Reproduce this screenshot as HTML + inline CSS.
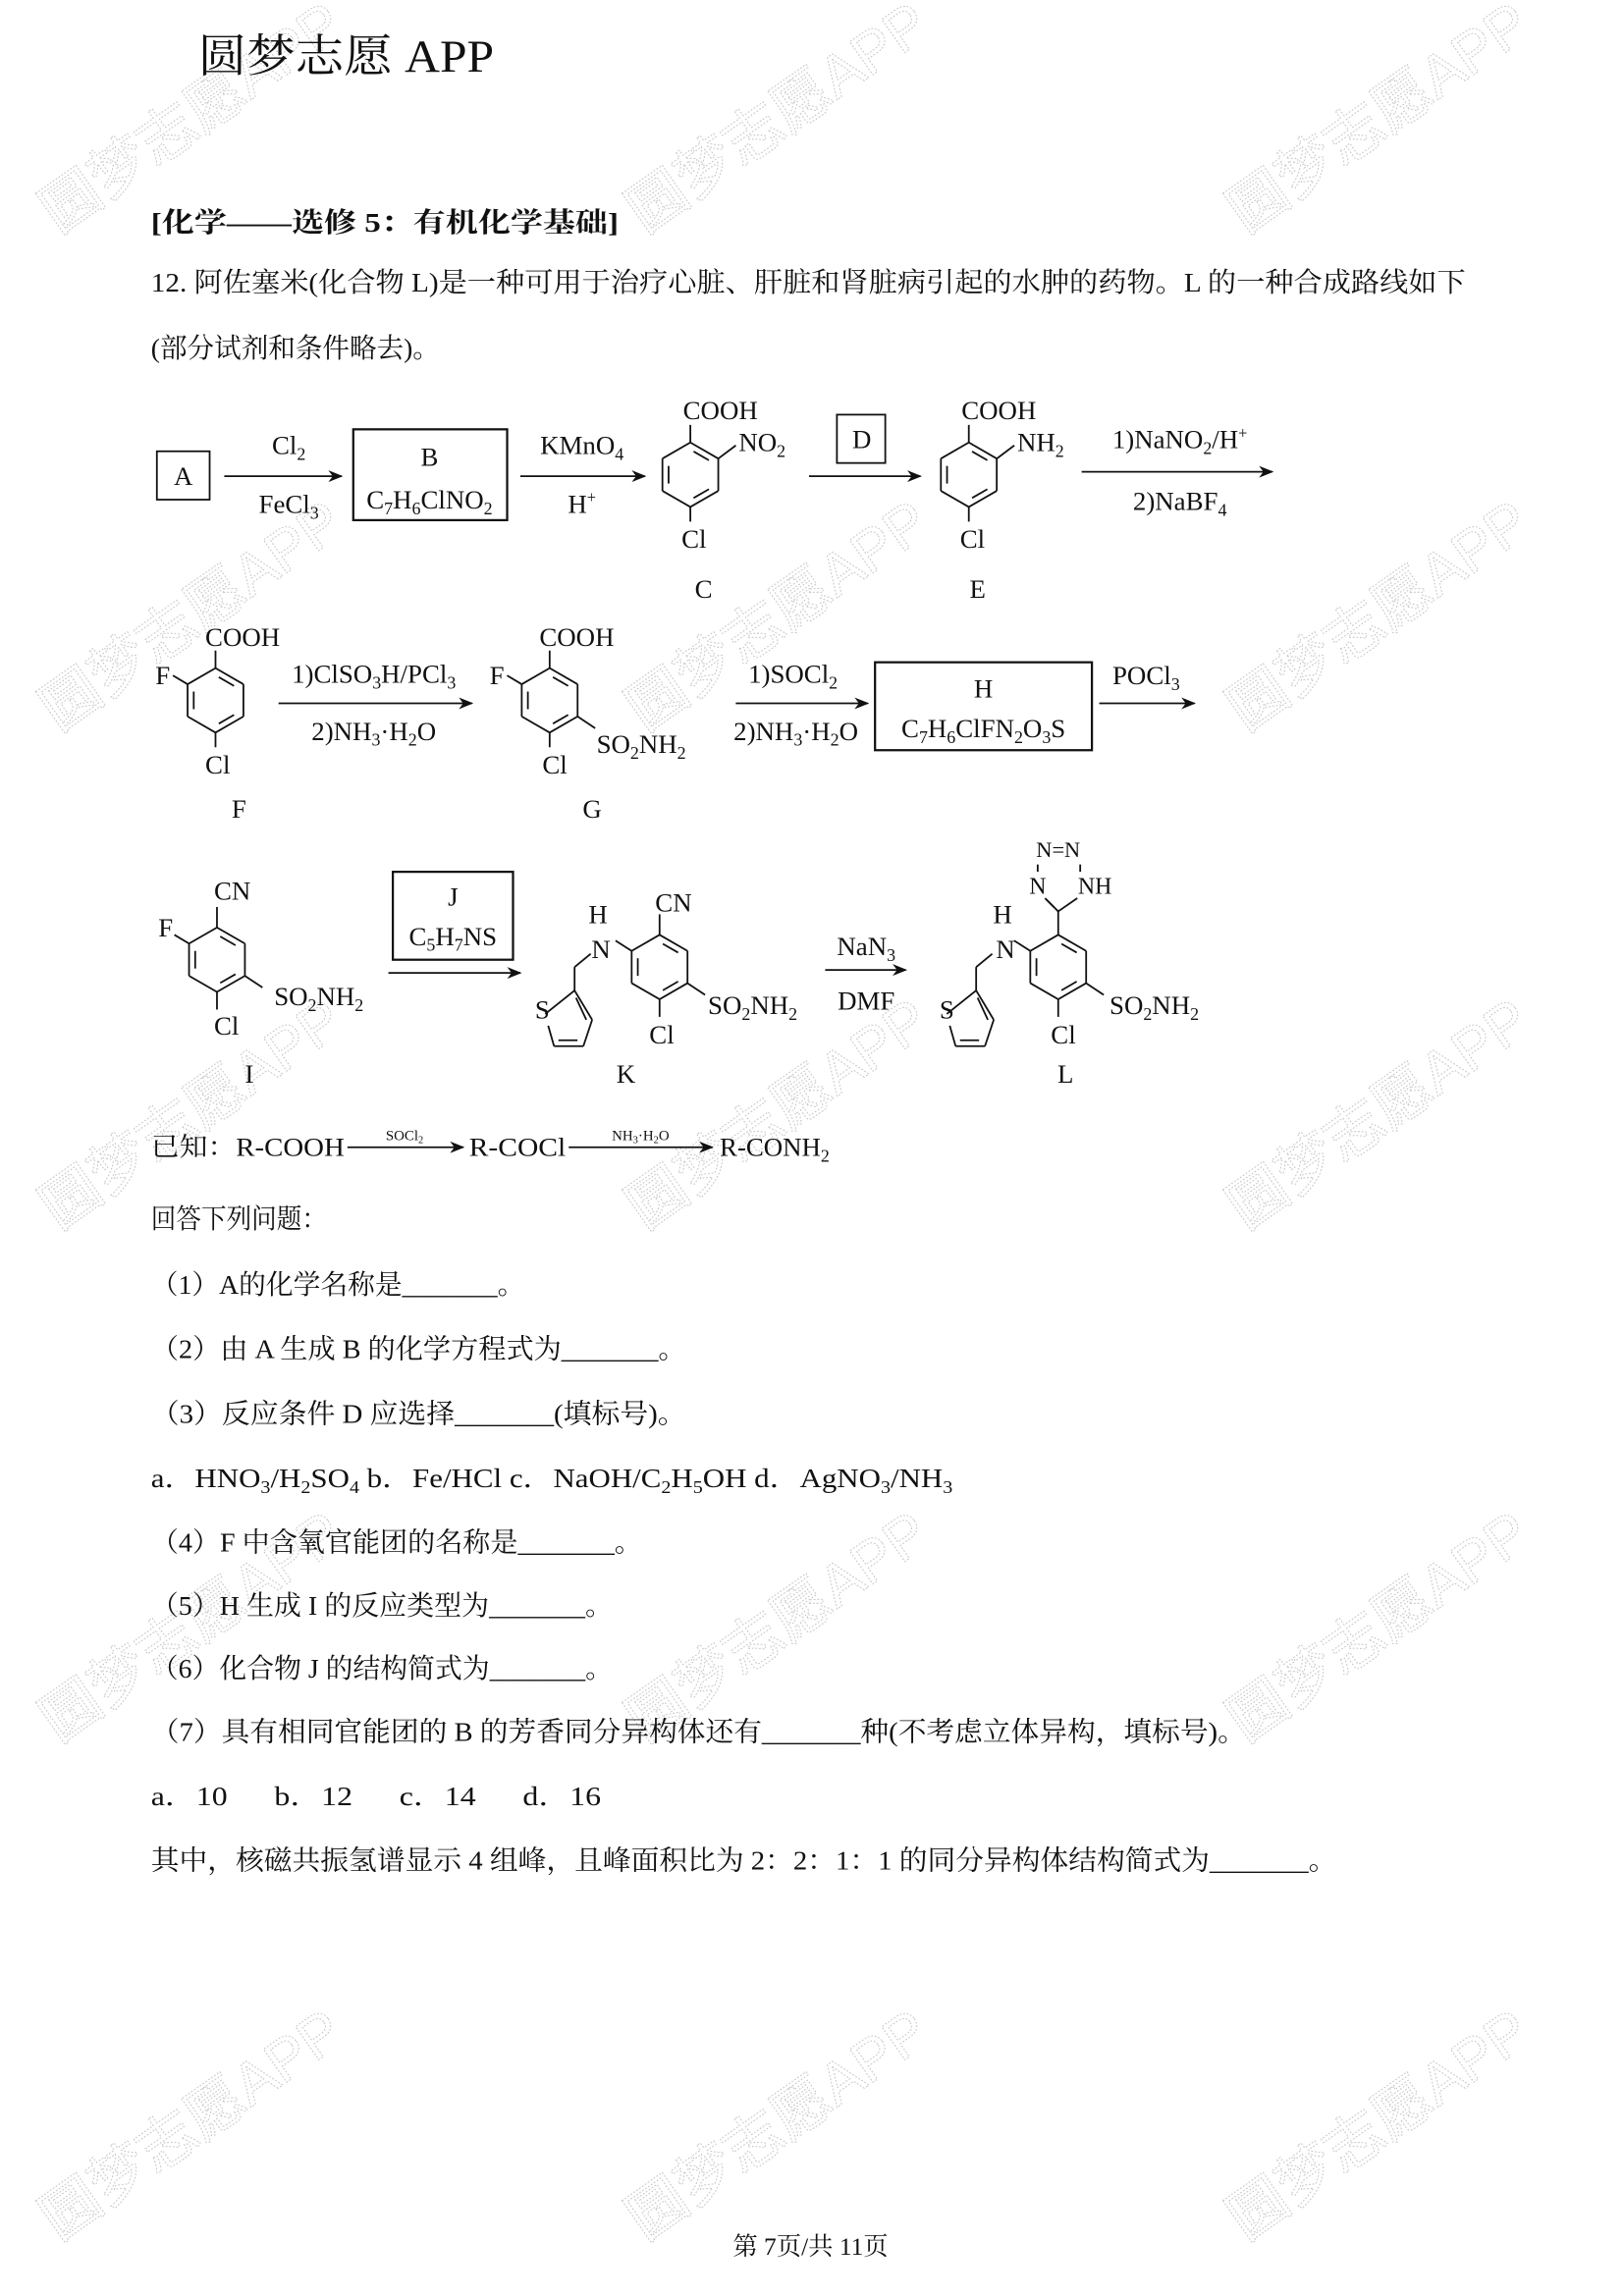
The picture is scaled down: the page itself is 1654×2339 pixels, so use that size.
<!DOCTYPE html>
<html><head><meta charset="utf-8"><style>
html,body{margin:0;padding:0;background:#fff;}
svg{display:block;}
text{font-family:"Liberation Serif","Noto Serif CJK SC",serif;fill:#111;}
.wm{font-family:"Liberation Sans","Noto Sans CJK SC",sans-serif;fill:none;stroke:#c8c8c8;stroke-width:0.7;stroke-dasharray:1.2 1.2;font-size:40px;}
</style></head><body>
<svg id="s" width="1654" height="2339" viewBox="0 0 1108 1567" xmlns="http://www.w3.org/2000/svg">
<defs><marker id="ah" markerWidth="10" markerHeight="8" refX="9" refY="4" orient="auto" markerUnits="userSpaceOnUse"><path d="M0,0 L10,4 L0,8 L3,4 z" fill="#111"/></marker></defs>
<g id="wms">
<text class="wm" transform="translate(40,160) rotate(-35)">圆梦志愿APP</text>
<text class="wm" transform="translate(440,160) rotate(-35)">圆梦志愿APP</text>
<text class="wm" transform="translate(850,160) rotate(-35)">圆梦志愿APP</text>
<text class="wm" transform="translate(40,500) rotate(-35)">圆梦志愿APP</text>
<text class="wm" transform="translate(440,500) rotate(-35)">圆梦志愿APP</text>
<text class="wm" transform="translate(850,500) rotate(-35)">圆梦志愿APP</text>
<text class="wm" transform="translate(40,840) rotate(-35)">圆梦志愿APP</text>
<text class="wm" transform="translate(440,840) rotate(-35)">圆梦志愿APP</text>
<text class="wm" transform="translate(850,840) rotate(-35)">圆梦志愿APP</text>
<text class="wm" transform="translate(40,1190) rotate(-35)">圆梦志愿APP</text>
<text class="wm" transform="translate(440,1190) rotate(-35)">圆梦志愿APP</text>
<text class="wm" transform="translate(850,1190) rotate(-35)">圆梦志愿APP</text>
<text class="wm" transform="translate(40,1530) rotate(-35)">圆梦志愿APP</text>
<text class="wm" transform="translate(440,1530) rotate(-35)">圆梦志愿APP</text>
<text class="wm" transform="translate(850,1530) rotate(-35)">圆梦志愿APP</text>
</g>

<text x="135" y="49" font-size="31" textLength="202" lengthAdjust="spacingAndGlyphs">圆梦志愿 APP</text>
<text x="103" y="158" font-size="18.5" font-weight="bold" textLength="319" lengthAdjust="spacingAndGlyphs">[化学——选修 5：有机化学基础]</text>
<text x="103" y="199" font-size="18.5" textLength="897" lengthAdjust="spacingAndGlyphs">12. 阿佐塞米(化合物 L)是一种可用于治疗心脏、肝脏和肾脏病引起的水肿的药物。L 的一种合成路线如下</text>
<text x="103" y="244" font-size="18.5" textLength="197" lengthAdjust="spacingAndGlyphs">(部分试剂和条件略去)。</text>

<g id="chem" font-size="18" stroke="#111" stroke-width="1.2" fill="none">
<rect x="107" y="308" width="36" height="33"/>
<line x1="153" y1="325" x2="233" y2="325" marker-end="url(#ah)"/>
<rect x="241" y="293" width="105" height="62" stroke-width="1.5"/>
<line x1="355" y1="325" x2="440" y2="325" marker-end="url(#ah)"/>
<rect x="571" y="283" width="33" height="33"/>
<line x1="552" y1="325" x2="628" y2="325" marker-end="url(#ah)"/>
<line x1="738" y1="322" x2="868" y2="322" marker-end="url(#ah)"/>
<line x1="190" y1="480" x2="322" y2="480" marker-end="url(#ah)"/>
<line x1="502" y1="480" x2="592" y2="480" marker-end="url(#ah)"/>
<rect x="597" y="452" width="148" height="60" stroke-width="1.5"/>
<line x1="750" y1="480" x2="815" y2="480" marker-end="url(#ah)"/>
<rect x="268" y="595" width="82" height="60" stroke-width="1.5"/>
<line x1="265" y1="664" x2="355" y2="664" marker-end="url(#ah)"/>
<line x1="563" y1="662" x2="618" y2="662" marker-end="url(#ah)"/>
<line x1="237" y1="783" x2="316" y2="783" marker-end="url(#ah)"/>
<line x1="388" y1="783" x2="486" y2="783" marker-end="url(#ah)"/>
</g>

<g font-size="18">
<text x="125" y="331" text-anchor="middle">A</text>
<text x="197" y="310" text-anchor="middle">Cl<tspan font-size="12" dy="4">2</tspan></text>
<text x="197" y="350" text-anchor="middle">FeCl<tspan font-size="12" dy="4">3</tspan></text>
<text x="293" y="318" text-anchor="middle">B</text>
<text x="293" y="347" text-anchor="middle">C<tspan font-size="12" dy="4">7</tspan><tspan dy="-4">H</tspan><tspan font-size="12" dy="4">6</tspan><tspan dy="-4">ClNO</tspan><tspan font-size="12" dy="4">2</tspan></text>
<text x="397" y="310" text-anchor="middle">KMnO<tspan font-size="12" dy="4">4</tspan></text>
<text x="397" y="350" text-anchor="middle">H<tspan font-size="11" dy="-7">+</tspan></text>
<text x="466" y="286">COOH</text>
<text x="504" y="308">NO<tspan font-size="12" dy="4">2</tspan></text>
<text x="465" y="374">Cl</text>
<text x="480" y="408" text-anchor="middle">C</text>
<text x="588" y="306" text-anchor="middle">D</text>
<text x="656" y="286">COOH</text>
<text x="694" y="308">NH<tspan font-size="12" dy="4">2</tspan></text>
<text x="655" y="374">Cl</text>
<text x="667" y="408" text-anchor="middle">E</text>
<text x="805" y="306" text-anchor="middle">1)NaNO<tspan font-size="12" dy="4">2</tspan><tspan dy="-4">/H</tspan><tspan font-size="11" dy="-7">+</tspan></text>
<text x="805" y="348" text-anchor="middle">2)NaBF<tspan font-size="12" dy="4">4</tspan></text>

<text x="140" y="441">COOH</text>
<text x="106" y="467">F</text>
<text x="140" y="528">Cl</text>
<text x="163" y="558" text-anchor="middle">F</text>
<text x="255" y="466" text-anchor="middle">1)ClSO<tspan font-size="12" dy="4">3</tspan><tspan dy="-4">H/PCl</tspan><tspan font-size="12" dy="4">3</tspan></text>
<text x="255" y="505" text-anchor="middle">2)NH<tspan font-size="12" dy="4">3</tspan><tspan dy="-4">·H</tspan><tspan font-size="12" dy="4">2</tspan><tspan dy="-4">O</tspan></text>
<text x="368" y="441">COOH</text>
<text x="334" y="467">F</text>
<text x="370" y="528">Cl</text>
<text x="407" y="514">SO<tspan font-size="12" dy="4">2</tspan><tspan dy="-4">NH</tspan><tspan font-size="12" dy="4">2</tspan></text>
<text x="404" y="558" text-anchor="middle">G</text>
<text x="541" y="466" text-anchor="middle">1)SOCl<tspan font-size="12" dy="4">2</tspan></text>
<text x="543" y="505" text-anchor="middle">2)NH<tspan font-size="12" dy="4">3</tspan><tspan dy="-4">·H</tspan><tspan font-size="12" dy="4">2</tspan><tspan dy="-4">O</tspan></text>
<text x="671" y="476" text-anchor="middle">H</text>
<text x="671" y="503" text-anchor="middle">C<tspan font-size="12" dy="4">7</tspan><tspan dy="-4">H</tspan><tspan font-size="12" dy="4">6</tspan><tspan dy="-4">ClFN</tspan><tspan font-size="12" dy="4">2</tspan><tspan dy="-4">O</tspan><tspan font-size="12" dy="4">3</tspan><tspan dy="-4">S</tspan></text>
<text x="782" y="467" text-anchor="middle">POCl<tspan font-size="12" dy="4">3</tspan></text>

<text x="146" y="614">CN</text>
<text x="108" y="639">F</text>
<text x="146" y="706">Cl</text>
<text x="187" y="686">SO<tspan font-size="12" dy="4">2</tspan><tspan dy="-4">NH</tspan><tspan font-size="12" dy="4">2</tspan></text>
<text x="170" y="739" text-anchor="middle">I</text>
<text x="309" y="618" text-anchor="middle">J</text>
<text x="309" y="645" text-anchor="middle">C<tspan font-size="12" dy="4">5</tspan><tspan dy="-4">H</tspan><tspan font-size="12" dy="4">7</tspan><tspan dy="-4">NS</tspan></text>
<text x="408" y="630" text-anchor="middle">H</text>
<text x="410" y="654" text-anchor="middle">N</text>
<text x="447" y="622">CN</text>
<text x="365" y="695">S</text>
<text x="443" y="712">Cl</text>
<text x="483" y="692">SO<tspan font-size="12" dy="4">2</tspan><tspan dy="-4">NH</tspan><tspan font-size="12" dy="4">2</tspan></text>
<text x="427" y="739" text-anchor="middle">K</text>
<text x="591" y="652" text-anchor="middle">NaN<tspan font-size="12" dy="4">3</tspan></text>
<text x="591" y="689" text-anchor="middle">DMF</text>
<text x="722" y="585" text-anchor="middle" font-size="15">N=N</text>
<text x="708" y="610" text-anchor="middle" font-size="16">N</text>
<text x="747" y="610" text-anchor="middle" font-size="16">NH</text>
<text x="684" y="630" text-anchor="middle">H</text>
<text x="686" y="654" text-anchor="middle">N</text>
<text x="641" y="695">S</text>
<text x="717" y="712">Cl</text>
<text x="757" y="692">SO<tspan font-size="12" dy="4">2</tspan><tspan dy="-4">NH</tspan><tspan font-size="12" dy="4">2</tspan></text>
<text x="727" y="739" text-anchor="middle">L</text>

<text x="103" y="789" textLength="132" lengthAdjust="spacingAndGlyphs">已知：R-COOH</text>
<text x="276" y="778" text-anchor="middle" font-size="10">SOCl<tspan font-size="7" dy="2">2</tspan></text>
<text x="320" y="789" textLength="66" lengthAdjust="spacingAndGlyphs">R-COCl</text>
<text x="437" y="778" text-anchor="middle" font-size="10">NH<tspan font-size="7" dy="2">3</tspan><tspan dy="-2">·H</tspan><tspan font-size="7" dy="2">2</tspan><tspan dy="-2">O</tspan></text>
<text x="491" y="789">R-CONH<tspan font-size="12" dy="4">2</tspan></text>
</g>

<g font-size="18.5">
<text x="103" y="838" textLength="120" lengthAdjust="spacingAndGlyphs">回答下列问题：</text>
<text x="103" y="883" textLength="255" lengthAdjust="spacingAndGlyphs">（1）A的化学名称是_______。</text>
<text x="103" y="927" textLength="365" lengthAdjust="spacingAndGlyphs">（2）由 A 生成 B 的化学方程式为_______。</text>
<text x="103" y="971" textLength="365" lengthAdjust="spacingAndGlyphs">（3）反应条件 D 应选择_______(填标号)。</text>
<text x="103" y="1015" textLength="547" lengthAdjust="spacingAndGlyphs">a．HNO<tspan font-size="12" dy="4">3</tspan><tspan dy="-4">/H</tspan><tspan font-size="12" dy="4">2</tspan><tspan dy="-4">SO</tspan><tspan font-size="12" dy="4">4</tspan><tspan dy="-4"> b．Fe/HCl      c．NaOH/C</tspan><tspan font-size="12" dy="4">2</tspan><tspan dy="-4">H</tspan><tspan font-size="12" dy="4">5</tspan><tspan dy="-4">OH d．AgNO</tspan><tspan font-size="12" dy="4">3</tspan><tspan dy="-4">/NH</tspan><tspan font-size="12" dy="4">3</tspan></text>
<text x="103" y="1059" textLength="335" lengthAdjust="spacingAndGlyphs">（4）F 中含氧官能团的名称是_______。</text>
<text x="103" y="1102" textLength="315" lengthAdjust="spacingAndGlyphs">（5）H 生成 I 的反应类型为_______。</text>
<text x="103" y="1145" textLength="315" lengthAdjust="spacingAndGlyphs">（6）化合物 J 的结构简式为_______。</text>
<text x="103" y="1188" textLength="747" lengthAdjust="spacingAndGlyphs">（7）具有相同官能团的 B 的芳香同分异构体还有_______种(不考虑立体异构，填标号)。</text>
<text x="103" y="1232" xml:space="preserve" textLength="307" lengthAdjust="spacingAndGlyphs">a．10      b．12      c．14      d．16</text>
<text x="103" y="1276" textLength="809" lengthAdjust="spacingAndGlyphs">其中，核磁共振氢谱显示 4 组峰，且峰面积比为 2：2：1：1 的同分异构体结构简式为_______。</text>
<text x="553" y="1539" text-anchor="middle" font-size="17">第 7页/共 11页</text>
</g>
<g id="bonds" stroke="#111" stroke-width="1.2" fill="none"></g>
</svg>
<script>
var g=document.getElementById('bonds');
function L(a,b,c,d){var l=document.createElementNS('http://www.w3.org/2000/svg','line');l.setAttribute('x1',a);l.setAttribute('y1',b);l.setAttribute('x2',c);l.setAttribute('y2',d);g.appendChild(l);}
function ring(cx,cy,r){var v=[];for(var i=0;i<6;i++){var a=(-90+60*i)*Math.PI/180;v.push([cx+r*Math.cos(a),cy+r*Math.sin(a)]);}
for(var i=0;i<6;i++){var p=v[i],q=v[(i+1)%6];L(p[0],p[1],q[0],q[1]);}
[[0,1],[2,3],[4,5]].forEach(function(e){var p=v[e[0]],q=v[e[1]],k=0.78;
var p2=[cx+(p[0]-cx)*k,cy+(p[1]-cy)*k],q2=[cx+(q[0]-cx)*k,cy+(q[1]-cy)*k];
var t=0.15;L(p2[0]+(q2[0]-p2[0])*t,p2[1]+(q2[1]-p2[1])*t,q2[0]-(q2[0]-p2[0])*t,q2[1]-(q2[1]-p2[1])*t);});
return v;}
function sub(v,i,dx,dy){L(v[i][0],v[i][1],v[i][0]+dx,v[i][1]+dy);}
var v;
v=ring(471,324,22);sub(v,0,0,-12);sub(v,1,12,-9);sub(v,3,0,10);
v=ring(661,324,22);sub(v,0,0,-12);sub(v,1,12,-9);sub(v,3,0,10);
v=ring(147,478,22);sub(v,0,0,-12);sub(v,5,-10,-6);sub(v,3,0,10);
v=ring(375,478,22);sub(v,0,0,-12);sub(v,5,-10,-6);sub(v,3,0,10);sub(v,2,12,8);
v=ring(148,655,22);sub(v,0,0,-14);sub(v,5,-10,-6);sub(v,3,0,12);sub(v,2,12,8);
function thio(ox){var C2=[392+ox,676],C3=[404+ox,696],C4=[398+ox,714],C5=[378+ox,714],S=[372+ox,696];
L(S[0],S[1]-4,C2[0],C2[1]);L(C2[0],C2[1],C3[0],C3[1]);L(C2[0]+1,C2[1]+5,C3[0]-4,C3[1]);
L(C3[0],C3[1],C4[0],C4[1]);L(C4[0],C4[1],C5[0],C5[1]);L(C4[0]-4,C4[1]-4,C5[0]+3,C5[1]-4);L(C5[0],C5[1],S[0]+2,S[1]+4);
L(C2[0],C2[1],C2[0],660);L(C2[0],660,C2[0]+11,651);}
v=ring(450,660,22);sub(v,0,0,-14);sub(v,5,-11,-7);sub(v,3,0,12);sub(v,2,12,8);thio(0);
v=ring(722,660,22);sub(v,0,0,-16);sub(v,5,-11,-7);sub(v,3,0,12);sub(v,2,12,8);thio(274);
L(722,622,713,613);L(722,622,735,613);L(719,619,714,614);
L(708,590,708,595);L(737,590,737,595);
</script>
</body></html>
